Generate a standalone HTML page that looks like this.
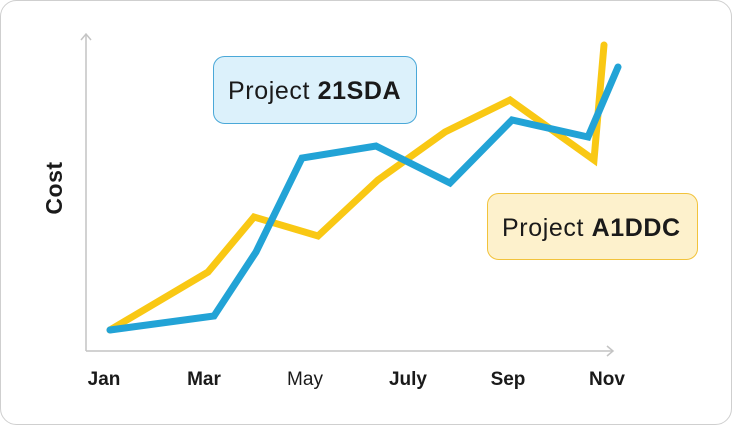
<!DOCTYPE html>
<html><head><meta charset="utf-8"><style>
html,body{margin:0;padding:0;background:#fff;}
svg{display:block;}
text{font-family:"Liberation Sans",sans-serif;fill:#1a1a1a;}
</style></head><body>
<svg width="732" height="426" viewBox="0 0 732 426" xmlns="http://www.w3.org/2000/svg">
<rect x="0.5" y="0.5" width="731" height="424" rx="16" fill="#fff" stroke="#cfcfcf"/>
<g stroke="#c4c4c4" stroke-width="1.5" fill="none">
<line x1="86" y1="34" x2="86" y2="351"/>
<polyline points="81,40 86,34 91,40"/>
<line x1="86" y1="351" x2="613" y2="351"/>
<polyline points="607,346 613,351 607,356"/>
</g>
<polyline fill="none" stroke="#f9c814" stroke-width="7" stroke-linejoin="miter" stroke-linecap="round" points="110,330 208,272 254,217 318,236 378,180 445,132 510,100 594,160 604,45"/>
<polyline fill="none" stroke="#22a3d6" stroke-width="7" stroke-linejoin="miter" stroke-linecap="round" points="110,330 214,316 256,252 302,158 376,146 450,183 512,120 588,137 618,67"/>
<rect x="213.5" y="56.5" width="203" height="67" rx="11" fill="#dcf1fb" stroke="#4aa8d8"/>
<text x="228" y="99" font-size="25" letter-spacing="0.6">Project <tspan font-weight="bold">21SDA</tspan></text>
<rect x="487.5" y="193.5" width="210" height="66" rx="11" fill="#fdf1cc" stroke="#f2c33b"/>
<text x="502" y="236" font-size="25" letter-spacing="0.6">Project <tspan font-weight="bold">A1DDC</tspan></text>
<text transform="translate(62,188) rotate(-90)" text-anchor="middle" font-size="23" font-weight="bold" letter-spacing="0.5">Cost</text>
<g font-size="19" text-anchor="middle" font-weight="bold">
<text x="104" y="385">Jan</text>
<text x="204" y="385">Mar</text>
<text x="305" y="385" font-weight="normal">May</text>
<text x="408" y="385">July</text>
<text x="508" y="385">Sep</text>
<text x="607" y="385">Nov</text>
</g>
</svg>
</body></html>
